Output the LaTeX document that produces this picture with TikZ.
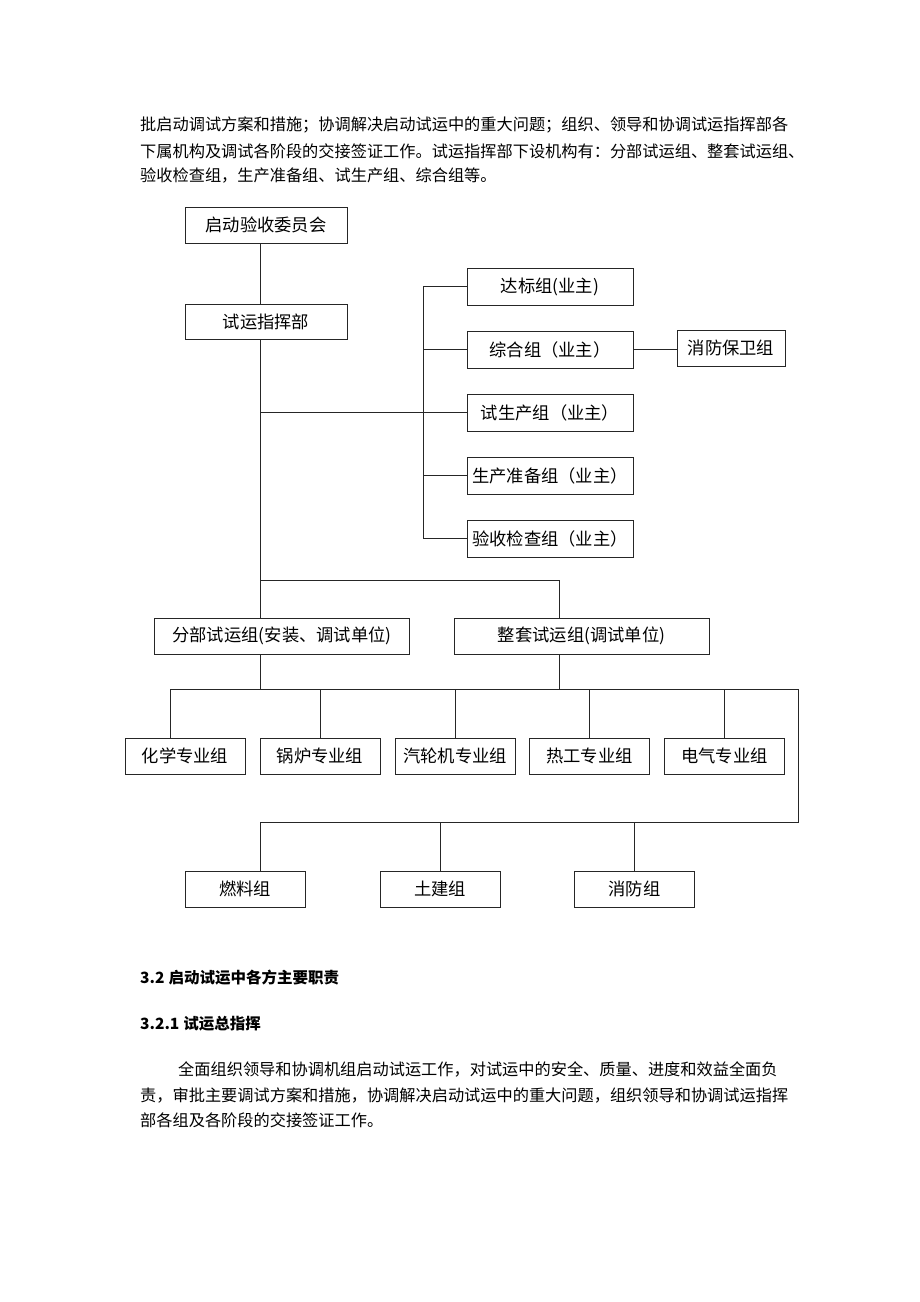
\documentclass[tikz,border=0pt]{standalone}
\usepackage{fontspec}
\setmainfont{Noto Sans CJK SC}
\begin{document}
\begin{tikzpicture}[x=1pt,y=-1pt,
  box/.style={draw=black!85,line width=1pt,inner sep=0pt,minimum height=36pt,font=\fontsize{17.3}{20}\selectfont},
  conn/.style={draw=black!85,line width=1pt},
  para/.style={anchor=west,inner sep=0pt,font=\fontsize{16.2}{18}\selectfont},
  head/.style={anchor=west,inner sep=0pt,font=\fontsize{15.5}{18}\selectfont\bfseries}]
\fill[white] (0,0) rectangle (920,1302);
\useasboundingbox (0,0) rectangle (920,1302);
% text above
\node[para] (p1) at (140,125) {批启动调试方案和措施；协调解决启动试运中的重大问题；组织、领导和协调试运指挥部各};
\node[para] (p2) at (140,151) {下属机构及调试各阶段的交接签证工作。试运指挥部下设机构有：分部试运组、整套试运组、};
\node[para] (p3) at (140,176) {验收检查组，生产准备组、试生产组、综合组等。};
% boxes
\node[box,minimum width=162pt] (qd) at (266,225) {启动验收委员会};
\node[box,minimum width=162pt,minimum height=35pt] (sy) at (266,322) {试运指挥部};
\node[box,minimum width=166pt,minimum height=37pt] (db) at (550,286.5) {达标组(业主)};
\node[box,minimum width=166pt,minimum height=37pt] (zh) at (550,349.5) {综合组（业主）};
\node[box,minimum width=108pt] (xfbw) at (731,348) {消防保卫组};
\node[box,minimum width=166pt,minimum height=37pt] (sc) at (550,412.5) {试生产组（业主）};
\node[box,minimum width=166pt,minimum height=37pt] (scz) at (550,475.5) {生产准备组（业主）};
\node[box,minimum width=166pt,minimum height=37pt] (ys) at (550,538.5) {验收检查组（业主）};
\node[box,minimum width=255pt] (fb) at (282,636) {分部试运组(安装、调试单位)};
\node[box,minimum width=255pt] (zt) at (581.5,636) {整套试运组(调试单位)};
\node[box,minimum width=120pt] (hx) at (185,756) {化学专业组};
\node[box,minimum width=120pt] (gl) at (320,756) {锅炉专业组};
\node[box,minimum width=120pt] (qj) at (455,756) {汽轮机专业组};
\node[box,minimum width=120pt] (rg) at (589.5,756) {热工专业组};
\node[box,minimum width=120pt] (dq) at (724.5,756) {电气专业组};
\node[box,minimum width=120pt] (rl) at (245,889) {燃料组};
\node[box,minimum width=120pt] (tj) at (440,889) {土建组};
\node[box,minimum width=120pt] (xf) at (634.5,889) {消防组};
% helper coordinates
\coordinate (tx) at (260,0);
\coordinate (bx) at (423,0);
\coordinate (zx) at (559,0);
\coordinate (rx) at (798,0);
\coordinate (d1) at (170,0);
\coordinate (h0) at (0,580);
\coordinate (h1) at (0,689);
\coordinate (h2) at (0,822);
% connectors
\draw[conn] (qd.south -| tx) -- (sy.north -| tx);
\draw[conn] (sy.south -| tx) -- (fb.north -| tx);
\draw[conn] (tx |- sc.west) -- (sc.west);
\draw[conn] (bx |- db.west) -- (bx |- ys.west);
\draw[conn] (bx |- db.west) -- (db.west);
\draw[conn] (bx |- zh.west) -- (zh.west);
\draw[conn] (bx |- scz.west) -- (scz.west);
\draw[conn] (bx |- ys.west) -- (ys.west);
\draw[conn] (zh.east) -- (xfbw.west |- zh.east);
\draw[conn] (tx |- h0) -- (zx |- h0) -- (zx |- zt.north);
\draw[conn] (fb.south -| tx) -- (tx |- h1);
\draw[conn] (zt.south -| zx) -- (zx |- h1);
\draw[conn] (d1 |- h1) -- (rx |- h1) -- (rx |- h2) -- (tx |- h2);
\draw[conn] (d1 |- h1) -- (d1 |- hx.north);
\draw[conn] (gl.north |- h1) -- (gl.north);
\draw[conn] (qj.north |- h1) -- (qj.north);
\draw[conn] (rg.north |- h1) -- (rg.north);
\draw[conn] (dq.north |- h1) -- (dq.north);
\draw[conn] (tx |- h2) -- (tx |- rl.north);
\draw[conn] (tj.north |- h2) -- (tj.north);
\draw[conn] (xf.north |- h2) -- (xf.north);
% text below
\node[head] (s1) at (140,978) {3.2\hspace{4pt}启动试运中各方主要职责};
\node[head] (s2) at (140,1024) {3.2.1\hspace{4pt}试运总指挥};
\node[para] (q1) at (178,1069) {全面组织领导和协调机组启动试运工作，对试运中的安全、质量、进度和效益全面负};
\node[para] (q2) at (140,1095) {责，审批主要调试方案和措施，协调解决启动试运中的重大问题，组织领导和协调试运指挥};
\node[para] (q3) at (140,1120) {部各组及各阶段的交接签证工作。};
\end{tikzpicture}
\end{document}
